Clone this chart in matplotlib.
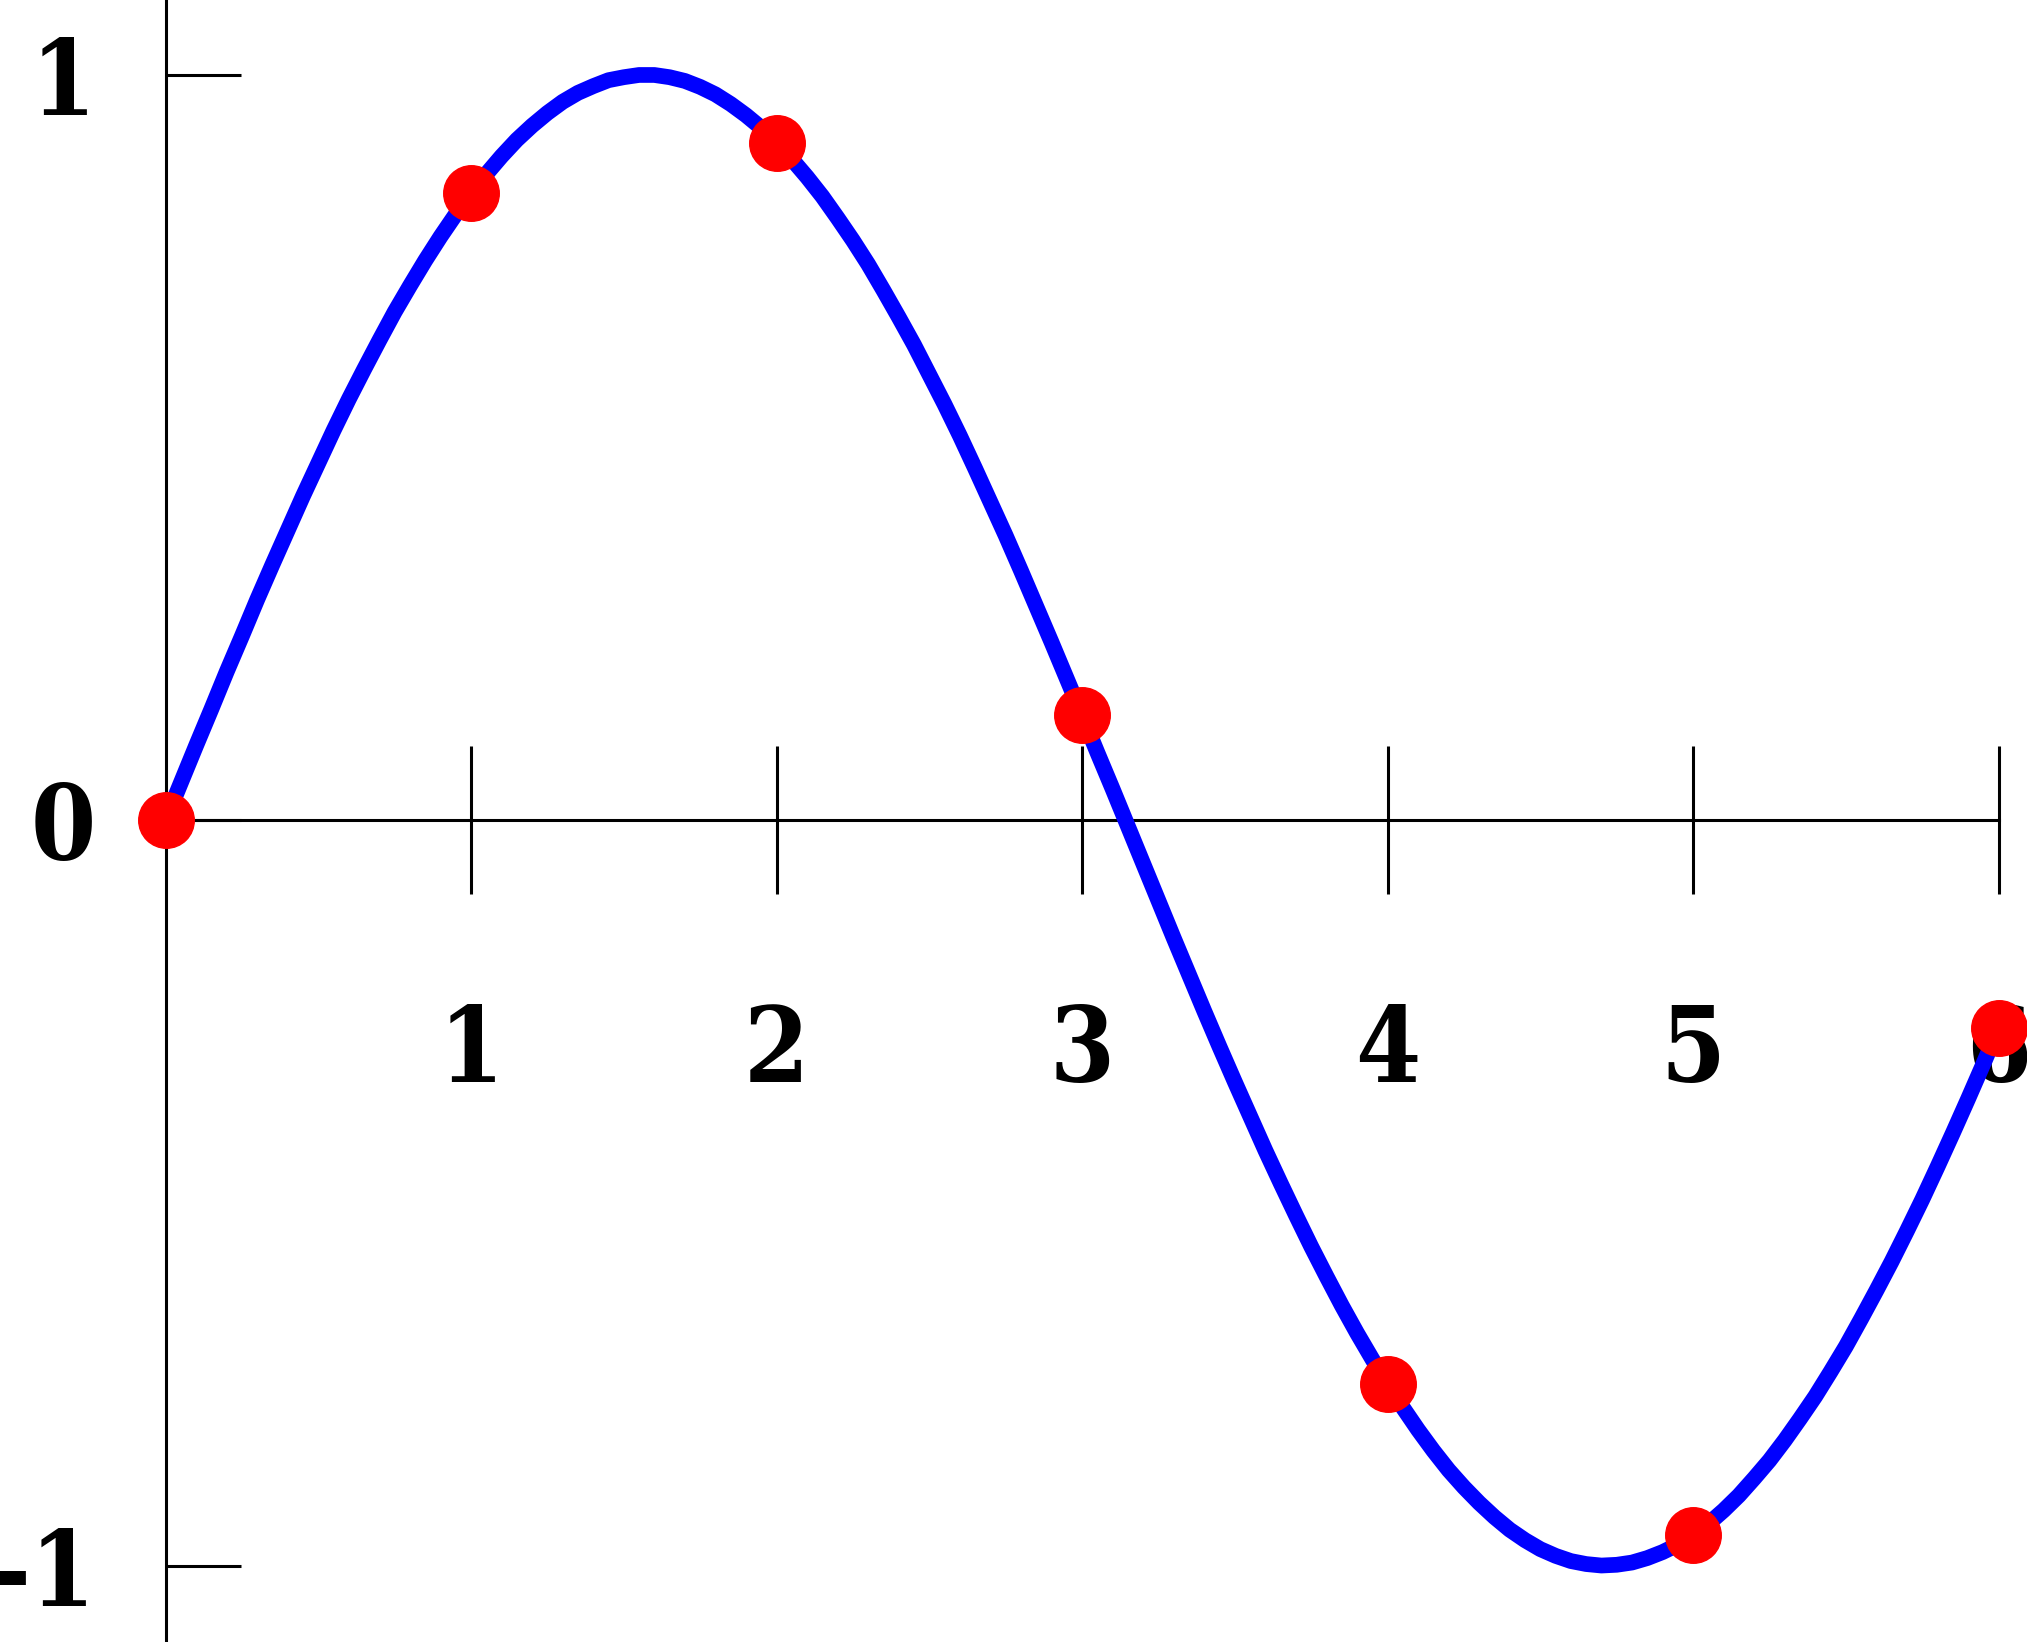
import matplotlib
matplotlib.use("Agg")
import matplotlib.pyplot as plt

# curve every 0.05
curve_x = [i / 20 for i in range(121)]
curve_y = [0.000, 0.050, 0.100, 0.149, 0.199, 0.247, 0.296, 0.343, 0.389, 0.435,
           0.479, 0.523, 0.565, 0.605, 0.644, 0.682, 0.717, 0.751, 0.783, 0.813,
           0.841, 0.867, 0.891, 0.913, 0.932, 0.949, 0.964, 0.976, 0.985, 0.993,
           0.997, 1.000, 1.000, 0.997, 0.992, 0.984, 0.974, 0.961, 0.946, 0.929,
           0.909, 0.887, 0.863, 0.837, 0.808, 0.778, 0.746, 0.711, 0.675, 0.638,
           0.598, 0.558, 0.516, 0.472, 0.427, 0.382, 0.335, 0.287, 0.239, 0.190,
           0.141, 0.091, 0.042, -0.008, -0.058, -0.108, -0.158, -0.207, -0.256, -0.304,
           -0.351, -0.397, -0.443, -0.487, -0.530, -0.572, -0.612, -0.651, -0.688, -0.723,
           -0.757, -0.788, -0.818, -0.846, -0.872, -0.895, -0.916, -0.935, -0.952, -0.966,
           -0.978, -0.987, -0.994, -0.998, -1.000, -0.999, -0.996, -0.990, -0.982, -0.972,
           -0.959, -0.944, -0.926, -0.906, -0.883, -0.859, -0.832, -0.803, -0.773, -0.740,
           -0.706, -0.669, -0.631, -0.592, -0.551, -0.509, -0.465, -0.420, -0.374, -0.327,
           -0.279]

point_x = [0, 1, 2, 3, 4, 5, 6]
point_y = [0.000, 0.841, 0.909, 0.141, -0.757, -0.959, -0.279]

x_ticks = [1, 2, 3, 4, 5, 6]
y_ticks = [-1, 0, 1]
y_tick_labels = ["-1", "0", "1"]

W, H = 2027, 1642
fig = plt.figure(figsize=(W / 100, H / 100), dpi=100)
ax = fig.add_axes([165.5 / W, 0, (1998.6 - 165.5) / W, 1])

ax.plot(curve_x, curve_y, color="blue", lw=11.3, zorder=3, clip_on=False)
ax.plot(point_x, point_y, "o", color="red", ms=40, zorder=4, clip_on=False)

ax.set_xlim(0, 6)
ax.set_ylim(-1.1026, 1.1006)

for s in ["top", "right"]:
    ax.spines[s].set_visible(False)
ax.spines["bottom"].set_position(("data", 0))
ax.spines["left"].set_linewidth(2.2)
ax.spines["bottom"].set_linewidth(2.2)

ax.set_xticks(x_ticks)
ax.set_yticks(y_ticks)
ax.set_yticklabels(y_tick_labels)

ax.tick_params(axis="x", direction="inout", length=106, width=2.2, pad=78)
ax.tick_params(axis="y", direction="in", length=54, width=2.2, pad=50)
for lab in ax.get_xticklabels() + ax.get_yticklabels():
    lab.set_fontsize(75)
    lab.set_fontweight("bold")
    lab.set_fontstretch("condensed")
    lab.set_family("DejaVu Serif")

fig.savefig("out.png", dpi=100)
